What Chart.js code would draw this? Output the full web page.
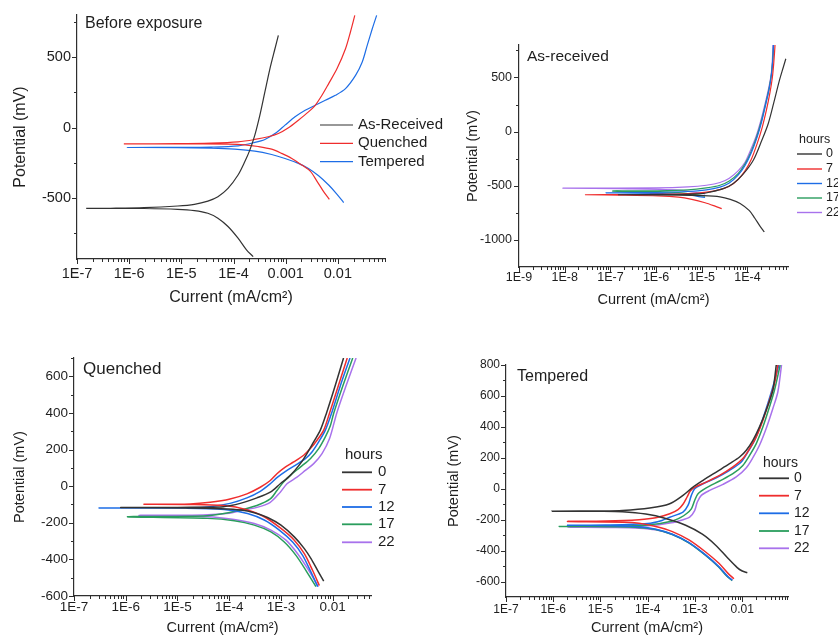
<!DOCTYPE html>
<html>
<head>
<meta charset="utf-8">
<title>Polarization curves</title>
<script src="https://cdn.jsdelivr.net/npm/chart.js"></script>
<style>
  html, body { margin: 0; padding: 0; background: #fff; }
  #page { position: relative; width: 838px; height: 636px; overflow: hidden; }
  #page canvas { position: absolute; left: 0; top: 0; }
</style>
</head>
<body>
<div id="page">
  <canvas id="before" width="838" height="636"></canvas>
  <canvas id="asrec" width="838" height="636"></canvas>
  <canvas id="quench" width="838" height="636"></canvas>
  <canvas id="temper" width="838" height="636"></canvas>
</div>
<script>
const FONT = "'Liberation Sans', Arial, Helvetica, sans-serif",
      INK = '#1e1e1e',
      AXIS = '#2e2e2e',
      W = 838, H = 636;

const colours = ['#333333', '#ef2d2d', '#1d6de6', '#2a9d5d', '#a872ec'];
const hours = ['0', '7', '12', '17', '22'];
const xTitle = 'Current (mA/cm²)', yTitle = 'Potential (mV)';

// ---- Before exposure : [current mA/cm², potential mV], cathodic end -> Ecorr -> anodic end
const beforeNames = ['As-Received', 'Quenched', 'Tempered'];
const beforeAsReceived = [
  [2.38e-4,-918],[1.77e-4,-870],[1.22e-4,-787],[7.83e-5,-704],[5.02e-5,-645],[3.22e-5,-610],[1.78e-5,-591],
  [8.5e-6,-582],[1.93e-6,-576],[4.4e-7,-575],[1.5e-7,-575],
  [4.4e-7,-574],[1.93e-6,-570],[8.5e-6,-558],[1.78e-5,-546],[3.22e-5,-523],[5.02e-5,-492],[7.83e-5,-433],
  [1.22e-4,-338],[1.64e-4,-244],[2.05e-4,-161],[2.56e-4,-54],[3.2e-4,88],[3.99e-4,253],[4.99e-4,419],
  [6.22e-4,560],[7.23e-4,655]
];
const beforeQuenched = [
  [6.86e-3,-511],[5.33e-3,-456],[3.96e-3,-381],[2.95e-3,-310],[2.04e-3,-267],[1.31e-3,-220],[8.37e-4,-184],
  [5.37e-4,-154],[2.97e-4,-135],[1.64e-4,-123],[7.83e-5,-118],[8.5e-6,-116],[7.9e-7,-116],
  [8.5e-6,-115],[3.73e-5,-111],[1.22e-4,-102],[2.56e-4,-85],[4.63e-4,-66],[7.23e-4,-43],[1.13e-3,-2],
  [1.75e-3,52],[2.73e-3,111],[3.68e-3,158],[4.95e-3,229],[6.66e-3,312],[9.64e-3,419],[1.4e-2,560],
  [1.74e-2,679],[2.11e-2,797]
];
const beforeTempered = [
  [1.29e-2,-534],[9.64e-3,-475],[6.66e-3,-409],[4.27e-3,-343],[2.73e-3,-291],[1.75e-3,-255],[9.7e-4,-220],
  [5.37e-4,-192],[2.56e-4,-168],[1.05e-4,-154],[3.73e-5,-147],[8.5e-6,-143],[9.2e-7,-142],
  [8.5e-6,-141],[3.73e-5,-139],[1.22e-4,-130],[2.56e-4,-106],[3.99e-4,-85],[6.22e-4,-43],[9.7e-4,17],
  [1.51e-3,76],[2.36e-3,123],[3.68e-3,158],[5.74e-3,194],[8.95e-3,229],[1.4e-2,277],[2.18e-2,371],
  [2.93e-2,466],[3.65e-2,584],[4.56e-2,702],[5.53e-2,797]
];
const beforeTickVals = [1e-7, 1e-6, 1e-5, 1e-4, 1e-3, 1e-2];
const beforeTickText = ['1E-7', '1E-6', '1E-5', '1E-4', '0.001', '0.01'];

// ---- As-received, by hours of exposure
const asrec0 = [
  [2.34e-4,-926],[1.86e-4,-870],[1.45e-4,-800],[1.1e-4,-730],[6.9e-5,-663],[4.2e-5,-625],[2.5e-5,-602],
  [1e-5,-591],[3.1e-6,-586],[1.5e-7,-583],
  [2e-6,-580],[1e-5,-572],[1.51e-5,-558],[2.95e-5,-526],[4.9e-5,-478],[8.13e-5,-390],[1.35e-4,-262],
  [2.04e-4,-85],[2.85e-4,75],[3.8e-4,275],[4.9e-4,460],[6.03e-4,590],[6.9e-4,673]
];
const asrec7 = [
  [2.73e-5,-711],[1.95e-5,-688],[1.18e-5,-657],[6.05e-6,-626],[3.1e-6,-605],[1.13e-6,-593],[1.52e-7,-586],[2.85e-8,-583],
  [1.5e-7,-582],[1e-6,-579],[5e-6,-572],[1.26e-5,-558],[2.5e-5,-535],[4e-5,-505],[6.3e-5,-440],[8.9e-5,-360],
  [1.2e-4,-260],[1.6e-4,-120],[2.1e-4,40],[2.6e-4,200],[3.1e-4,360],[3.5e-4,500],[3.75e-4,630],[3.95e-4,760],[4e-4,800]
];
const asrec12 = [
  [1.18e-5,-608],[4.33e-6,-583],[8.1e-7,-570],[8.04e-8,-565],
  [1e-6,-562],[5e-6,-553],[1.26e-5,-538],[2.5e-5,-512],[4e-5,-475],[6.3e-5,-400],[8.9e-5,-310],[1.2e-4,-200],
  [1.6e-4,-60],[2.04e-4,90],[2.5e-4,250],[3e-4,400],[3.35e-4,530],[3.58e-4,660],[3.7e-4,800]
];
const asrec17 = [
  [1.18e-5,-596],[3.1e-6,-562],[1.12e-7,-549],
  [1e-6,-546],[5e-6,-538],[1.26e-5,-520],[2.5e-5,-495],[4e-5,-455],[6.3e-5,-385],[8.9e-5,-295],[1.2e-4,-185],
  [1.58e-4,-50],[2e-4,95],[2.47e-4,250],[2.97e-4,400],[3.33e-4,530],[3.57e-4,660],[3.72e-4,800]
];
const asrec22 = [
  [1.18e-5,-574],[3.1e-6,-540],[1.52e-7,-527],[9.27e-9,-522],
  [1e-6,-519],[5e-6,-510],[1.26e-5,-495],[2.5e-5,-470],[4e-5,-430],[6.3e-5,-360],[8.9e-5,-280],[1.17e-4,-170],
  [1.55e-4,-40],[1.95e-4,100],[2.4e-4,250],[2.9e-4,400],[3.3e-4,530],[3.5e-4,660],[3.6e-4,800]
];
const asrecTickVals = [1e-9, 1e-8, 1e-7, 1e-6, 1e-5, 1e-4];
const asrecTickText = ['1E-9', '1E-8', '1E-7', '1E-6', '1E-5', '1E-4'];

// ---- Quenched
const quench0 = [
  [6.7e-3,-519],[5.13e-3,-461],[3.81e-3,-396],[2.83e-3,-341],[1.81e-3,-277],[1e-3,-213],[5.52e-4,-171],
  [3.05e-4,-145],[1.68e-4,-130],[6.9e-5,-123],[1.81e-5,-119],[8e-7,-117],
  [1e-5,-116],[3.16e-5,-115],[7.76e-5,-112],[1.63e-4,-94],[3.43e-4,-64],[6.22e-4,-33],[9.7e-4,13],
  [1.52e-3,59],[2.37e-3,123],[3.18e-3,178],[4.29e-3,242],[5.77e-3,306],[7.6e-3,400],[1.12e-2,550],[1.62e-2,700]
];
const quench7 = [
  [5.52e-3,-543],[4.1e-3,-461],[2.83e-3,-369],[1.81e-3,-295],[1e-3,-231],[4.75e-4,-167],[2.26e-4,-130],
  [8e-5,-106],[1.5e-5,-100],[2.26e-6,-99],
  [1.76e-5,-97],[4.29e-5,-88],[1.04e-4,-70],[2.2e-4,-42],[3.98e-4,-6],[6.22e-4,31],[8.37e-4,68],[1.21e-3,104],
  [1.76e-3,132],[2.75e-3,169],[3.7e-3,205],[4.98e-3,251],[6.7e-3,306],[8.7e-3,400],[1.29e-2,550],[1.91e-2,700]
];
const quench12 = [
  [5.13e-3,-549],[3.81e-3,-470],[2.62e-3,-378],[1.68e-3,-305],[9.29e-4,-240],[4.75e-4,-185],[2.26e-4,-149],
  [8e-5,-127],[1.5e-5,-120],[3.05e-7,-119],
  [1.76e-5,-118],[4.29e-5,-112],[1.04e-4,-94],[2.2e-4,-64],[3.98e-4,-28],[6.22e-4,13],[8.6e-4,49],[1.31e-3,86],
  [1.89e-3,114],[2.96e-3,150],[3.98e-3,187],[5.36e-3,242],[7.21e-3,306],[9.55e-3,400],[1.41e-2,550],[2.16e-2,700]
];
const quench17 = [
  [4.75e-3,-549],[3.05e-3,-461],[1.95e-3,-378],[1.16e-3,-305],[6.4e-4,-250],[3.05e-4,-213],[1.25e-4,-189],
  [3.81e-5,-176],[1.08e-6,-167],
  [3.16e-5,-163],[7.94e-5,-150],[1.58e-4,-132],[3.43e-4,-106],[6.22e-4,-70],[8.37e-4,-24],[1.12e-3,22],
  [1.52e-3,59],[2.37e-3,104],[3.7e-3,150],[5.36e-3,205],[7.21e-3,269],[9e-3,330],[1.05e-2,400],[1.58e-2,550],[2.44e-2,700]
];
const quench22 = [
  [5.28e-3,-549],[3.28e-3,-451],[2.1e-3,-369],[1.25e-3,-295],[6.4e-4,-240],[3.05e-4,-204],[1.25e-4,-182],
  [3.81e-5,-167],[1.81e-6,-160],
  [3.16e-5,-157],[1e-4,-148],[1.63e-4,-134],[3.43e-4,-116],[6.22e-4,-88],[9.7e-4,-33],[1.31e-3,13],[2.04e-3,49],
  [2.96e-3,86],[4.29e-3,123],[6.22e-3,178],[8.7e-3,260],[1.2e-2,400],[1.82e-2,550],[2.83e-2,700]
];
const quenchTickVals = [1e-7, 1e-6, 1e-5, 1e-4, 1e-3, 1e-2];
const quenchTickText = ['1E-7', '1E-6', '1E-5', '1E-4', '1E-3', '0.01'];

// ---- Tempered
const temper0 = [
  [1.28e-2,-543],[1e-2,-532],[7.83e-3,-510],[4.82e-3,-445],[2.74e-3,-365],[1.43e-3,-294],[6.35e-4,-236],
  [2.4e-4,-192],[9.08e-5,-164],[2.92e-5,-149],[1e-5,-146],[9.4e-7,-145],
  [1e-5,-144],[2.92e-5,-141],[1.1e-4,-125],[2.92e-4,-97],[5.57e-4,-43],[9.08e-4,11],[1.48e-3,54],[2.82e-3,108],
  [5.4e-3,162],[8.79e-3,205],[1.22e-2,249],[1.68e-2,313],[2.32e-2,400],[3.21e-2,508],[4.45e-2,638],[5.25e-2,800]
];
const temper7 = [
  [6.67e-3,-582],[5.06e-3,-549],[3.21e-3,-482],[1.68e-3,-409],[7.46e-4,-331],[3.32e-4,-277],[1.48e-4,-244],
  [6.56e-5,-223],[3.16e-5,-216],[2.01e-6,-212],
  [1.3e-5,-209],[6.56e-5,-200],[1.48e-4,-188],[2.92e-4,-162],[4.37e-4,-135],[5.57e-4,-100],[6.76e-4,-55],
  [7.94e-4,-15],[1e-3,10],[1.73e-3,43],[3.32e-3,86],[6.35e-3,141],[1.03e-2,195],[1.43e-2,259],[1.98e-2,335],
  [2.74e-2,443],[3.78e-2,573],[4.82e-2,681],[5.68e-2,800]
];
const temper12 = [
  [6.15e-3,-592],[4.82e-3,-564],[3.21e-3,-504],[1.68e-3,-428],[7.46e-4,-348],[3.32e-4,-294],[1.48e-4,-262],
  [6.56e-5,-246],[2e-5,-239],[2.01e-6,-236],
  [1.3e-5,-235],[1e-4,-225],[2e-4,-205],[2.92e-4,-184],[5.57e-4,-151],[7.11e-4,-108],[8.37e-4,-43],[9.84e-4,0],
  [1.48e-3,32],[2.82e-3,71],[5.4e-3,119],[9.53e-3,173],[1.32e-2,238],[1.82e-2,313],[2.52e-2,422],[3.48e-2,551],
  [4.45e-2,659],[5.96e-2,800]
];
const temper17 = [
  [6.1e-3,-594],[4.75e-3,-566],[3.17e-3,-506],[1.66e-3,-430],[7.4e-4,-350],[3.3e-4,-296],[1.47e-4,-264],
  [6.5e-5,-250],[2e-5,-246],[1.34e-6,-244],
  [1.3e-5,-243],[1e-4,-235],[3.16e-4,-210],[5.01e-4,-185],[6.56e-4,-162],[8.37e-4,-130],[9.84e-4,-76],
  [1.16e-3,-32],[1.73e-3,6],[3.32e-3,50],[6.35e-3,97],[1.03e-2,151],[1.43e-2,216],[1.98e-2,292],[2.74e-2,400],
  [3.78e-2,530],[4.82e-2,638],[6.35e-2,800]
];
const temper22 = [
  [6.2e-3,-592],[4.8e-3,-564],[3.2e-3,-505],[1.67e-3,-429],[7.4e-4,-349],[3.3e-4,-295],[1.47e-4,-266],
  [6.5e-5,-255],[2e-5,-251],[2.01e-6,-249],
  [2e-5,-248],[1e-4,-240],[3.16e-4,-220],[5.62e-4,-200],[7.71e-4,-184],[9.84e-4,-141],[1.12e-3,-86],
  [1.36e-3,-43],[2.04e-3,-11],[3.91e-3,28],[7.46e-3,76],[1.22e-2,136],[1.68e-2,201],[2.32e-2,281],[3.21e-2,389],
  [4.45e-2,519],[5.68e-2,627],[6.78e-2,800]
];
const temperTickVals = quenchTickVals;
const temperTickText = quenchTickText;

// ---- layout of the four panels (page pixels)
const panels = [
  { id: 'before', area: { l: 77, t: 15, r: 385, b: 259 },
    xMin: 1e-7, xMax: 0.08, yMin: -935, yMax: 800,
    xTickVals: beforeTickVals, xTickText: beforeTickText,
    yMajor: [-500, 0, 500], yMinor: [-750, -250, 250, 750],
    yTitleX: 21, xTitleY: 298, tickSize: 14.5, axisSize: 16, xPad: 6, yPad: 6,
    series: [beforeAsReceived, beforeQuenched, beforeTempered], lw: 1.2,
    title: 'Before exposure', titleAt: [85, 24], titleSize: 16,
    legend: { names: beforeNames, x1: 320, x2: 353, tx: 358, ys: [125, 143.3, 161.7], size: 15, lw: 1.2 } },
  { id: 'asrec', area: { l: 519, t: 45, r: 788, b: 267 },
    xMin: 1e-9, xMax: 7.7e-4, yMin: -1250, yMax: 800,
    xTickVals: asrecTickVals, xTickText: asrecTickText,
    yMajor: [-1000, -500, 0, 500], yMinor: [-750, -250, 250, 750],
    yTitleX: 473, xTitleY: 300, tickSize: 12.5, axisSize: 14.5, xPad: 3, yPad: 7,
    series: [asrec0, asrec7, asrec12, asrec17, asrec22], lw: 1.2,
    title: 'As-received', titleAt: [527, 57], titleSize: 15.5,
    legend: { head: 'hours', headAt: [799, 140], names: hours, x1: 797, x2: 822, tx: 826,
              ys: [154, 169, 183.5, 198, 212.5], size: 12.5, lw: 1.4 } },
  { id: 'quench', area: { l: 74, t: 358, r: 371, b: 596 },
    xMin: 1e-7, xMax: 0.055, yMin: -600, yMax: 700,
    xTickVals: quenchTickVals, xTickText: quenchTickText,
    yMajor: [-600, -400, -200, 0, 200, 400, 600], yMinor: [-500, -300, -100, 100, 300, 500, 700],
    yTitleX: 19.5, xTitleY: 628, tickSize: 13.5, axisSize: 14.5, xPad: 3, yPad: 6,
    series: [quench0, quench7, quench12, quench17, quench22], lw: 1.5,
    title: 'Quenched', titleAt: [83, 369.5], titleSize: 17,
    legend: { head: 'hours', headAt: [345, 454.5], names: hours, x1: 342, x2: 372, tx: 378,
              ys: [472.3, 489.7, 507, 524.3, 542.3], size: 15, lw: 1.8 } },
  { id: 'temper', area: { l: 506, t: 365, r: 788, b: 597 },
    xMin: 1e-7, xMax: 0.093, yMin: -700, yMax: 800,
    xTickVals: temperTickVals, xTickText: temperTickText,
    yMajor: [-600, -400, -200, 0, 200, 400, 600, 800], yMinor: [-500, -300, -100, 100, 300, 500, 700],
    yTitleX: 454, xTitleY: 628, tickSize: 12, axisSize: 14.5, xPad: 5, yPad: 6,
    series: [temper0, temper7, temper12, temper17, temper22], lw: 1.5,
    title: 'Tempered', titleAt: [517, 377], titleSize: 16,
    legend: { head: 'hours', headAt: [763, 463], names: hours, x1: 759, x2: 789, tx: 794,
              ys: [478.3, 495.7, 513.3, 531, 548.3], size: 14, lw: 1.8 } }
];

Chart.defaults.font.family = FONT;
Chart.defaults.color = INK;

const font = (size) => ({ family: FONT, size: size, lineHeight: 1.2 });

// ticks, panel heading and legend are drawn after the chart, in page pixels
const decorFor = (p) => ({
  id: 'decor',
  afterDraw(chart) {
    const { ctx, chartArea: a, scales: { x, y } } = chart;
    ctx.save();
    ctx.strokeStyle = AXIS;
    ctx.lineWidth = 1;
    ctx.beginPath();
    const lo = Math.floor(Math.log10(p.xMin) + 1e-9), hi = Math.ceil(Math.log10(p.xMax));
    for (let d = lo; d <= hi; d++) {
      for (let k = 1; k < 10; k++) {
        const v = k * Math.pow(10, d);
        if (v < p.xMin * 0.999 || v > p.xMax * 1.001) continue;
        const px = Math.round(x.getPixelForValue(v)) + 0.5;
        ctx.moveTo(px, a.bottom);
        ctx.lineTo(px, a.bottom + (k === 1 ? 5 : 3));
      }
    }
    p.yMajor.forEach(v => {
      const py = Math.round(y.getPixelForValue(v)) + 0.5;
      ctx.moveTo(a.left, py); ctx.lineTo(a.left - 5, py);
    });
    p.yMinor.forEach(v => {
      const py = Math.round(y.getPixelForValue(v)) + 0.5;
      ctx.moveTo(a.left, py); ctx.lineTo(a.left - 3, py);
    });
    ctx.stroke();

    ctx.fillStyle = INK;
    ctx.textAlign = 'left';
    ctx.textBaseline = 'middle';
    ctx.font = p.titleSize + 'px ' + FONT;
    ctx.fillText(p.title, p.titleAt[0], p.titleAt[1]);

    const lg = p.legend;
    ctx.font = lg.size + 'px ' + FONT;
    if (lg.head) ctx.fillText(lg.head, lg.headAt[0], lg.headAt[1]);
    lg.names.forEach((name, i) => {
      ctx.strokeStyle = colours[i];
      ctx.lineWidth = lg.lw;
      ctx.beginPath();
      ctx.moveTo(lg.x1, lg.ys[i]);
      ctx.lineTo(lg.x2, lg.ys[i]);
      ctx.stroke();
      ctx.fillText(name, lg.tx, lg.ys[i]);
    });
    ctx.restore();
  }
});

const drawPanel = (p) => {
  const half = p.axisSize * 1.2 / 2;
  const padLeft = p.yTitleX - half;
  const yWidth = p.area.l - padLeft;
  const xHeight = p.xTitleY + half - p.area.b;
  const padBottom = H - p.area.b - xHeight;

  new Chart(document.getElementById(p.id), {
    type: 'scatter',
    data: {
      datasets: p.series.map((s, i) => ({
        data: s,
        showLine: true,
        borderColor: colours[i],
        backgroundColor: colours[i],
        borderWidth: p.lw,
        pointRadius: 0,
        tension: 0.3,
        fill: false,
        order: i
      }))
    },
    options: {
      responsive: false,
      animation: false,
      events: [],
      layout: { padding: { left: padLeft, top: p.area.t, right: W - p.area.r, bottom: padBottom } },
      plugins: { legend: { display: false }, tooltip: { enabled: false } },
      scales: {
        x: {
          type: 'logarithmic',
          position: 'bottom',
          min: p.xMin,
          max: p.xMax,
          grid: { display: false, drawTicks: false },
          border: { display: true, color: AXIS, width: 1.2 },
          afterBuildTicks: (s) => { s.ticks = p.xTickVals.map(v => ({ value: v })); },
          ticks: {
            autoSkip: false, maxRotation: 0, minRotation: 0,
            padding: p.xPad, color: INK, font: font(p.tickSize),
            callback: (v, i) => p.xTickText[i]
          },
          title: { display: true, text: xTitle, color: INK, font: font(p.axisSize), padding: 0 },
          afterFit: (s) => {
            s.height = xHeight;
            s.paddingLeft = 0; s.paddingRight = 0;
          }
        },
        y: {
          type: 'linear',
          position: 'left',
          min: p.yMin,
          max: p.yMax,
          grid: { display: false, drawTicks: false },
          border: { display: true, color: AXIS, width: 1.2 },
          afterBuildTicks: (s) => { s.ticks = p.yMajor.map(v => ({ value: v })); },
          ticks: {
            padding: p.yPad, color: INK, font: font(p.tickSize),
            callback: (v) => String(v)
          },
          title: { display: true, text: yTitle, color: INK, font: font(p.axisSize), padding: 0 },
          afterFit: (s) => {
            s.width = yWidth;
            s.paddingTop = 0; s.paddingBottom = 0;
          }
        }
      }
    },
    plugins: [decorFor(p)]
  });
};

panels.forEach(drawPanel);
</script>
</body>
</html>
